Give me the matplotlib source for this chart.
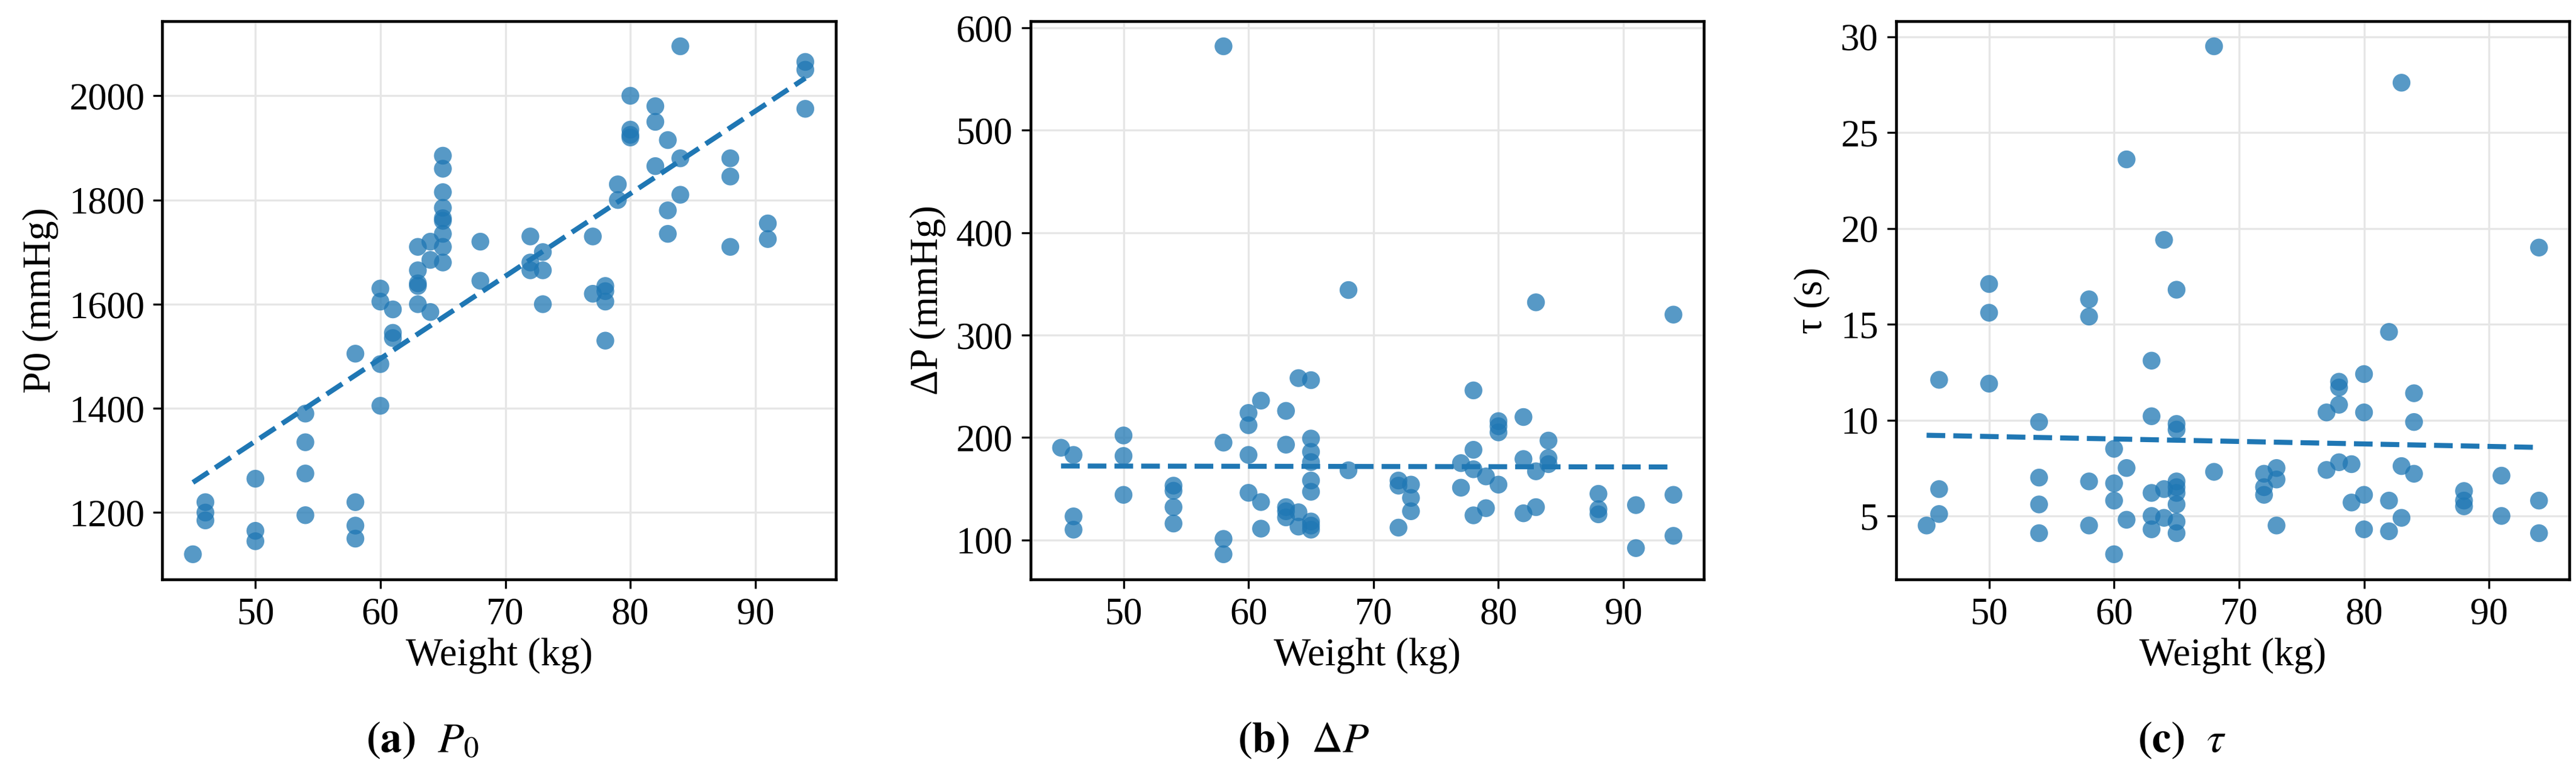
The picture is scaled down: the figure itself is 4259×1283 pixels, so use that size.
import numpy as np
import matplotlib.pyplot as plt

plt.rcParams['font.family'] = ['Liberation Serif', 'DejaVu Serif']
plt.rcParams['mathtext.fontset'] = 'stix'

# weight of each subject (shared by the three panels)
weight_groups = [45, 46, 50, 54, 58, 60, 61, 63, 64, 65, 68, 72, 73, 77, 78, 79, 80, 82, 83, 84, 88, 91, 94]

p0 = [[1120], [1220, 1200, 1185], [1265, 1165, 1145], [1390, 1335, 1275, 1195],
      [1505, 1220, 1175, 1150], [1630, 1605, 1485, 1405], [1590, 1545, 1535],
      [1710, 1665, 1640, 1635, 1600], [1720, 1685, 1585],
      [1885, 1860, 1815, 1785, 1765, 1760, 1735, 1710, 1680], [1720, 1645],
      [1730, 1680, 1665], [1700, 1665, 1600], [1730, 1620], [1635, 1625, 1605, 1530],
      [1830, 1800], [2000, 1935, 1925, 1920], [1980, 1950, 1865], [1915, 1780, 1735],
      [2095, 1880, 1810], [1880, 1845, 1710], [1755, 1725], [2065, 2050, 1975]]

dp = [[190], [183, 123, 110], [202, 182, 144], [153, 148, 132, 116],
      [582, 195, 101, 86], [224, 212, 183, 146], [236, 137, 111],
      [226, 193, 132, 128, 122], [258, 127, 113],
      [256, 199, 186, 176, 158, 147, 118, 114, 110], [344, 168],
      [158, 153, 112], [154, 141, 128], [175, 151], [246, 188, 169, 124],
      [162, 131], [216, 211, 205, 154], [220, 179, 126], [332, 167, 132],
      [197, 180, 174], [145, 130, 125], [134, 92], [320, 144, 104]]

tau = [[4.5], [12.1, 6.4, 5.1], [17.1, 15.6, 11.9], [9.9, 7.0, 5.6, 4.1],
       [16.3, 15.4, 6.8, 4.5], [8.5, 6.7, 5.8, 3.0], [23.6, 7.5, 4.8],
       [13.1, 10.2, 6.2, 5.0, 4.3], [19.4, 6.4, 4.9],
       [16.8, 9.8, 9.5, 6.8, 6.5, 6.2, 5.6, 4.7, 4.1], [29.5, 7.3],
       [7.2, 6.5, 6.1], [7.5, 6.9, 4.5], [10.4, 7.4], [12.0, 11.7, 10.8, 7.8],
       [7.7, 5.7], [12.4, 10.4, 6.1, 4.3], [14.6, 5.8, 4.2], [27.6, 7.6, 4.9],
       [11.4, 9.9, 7.2], [6.3, 5.8, 5.5], [7.1, 5.0], [19.0, 5.8, 4.1]]

panels = [
    (p0, 'P0 (mmHg)', r'$\mathbf{(a)}$  $P_0$', [1200, 1400, 1600, 1800, 2000]),
    (dp, 'ΔP (mmHg)', r'$\mathbf{(b)}$  $\Delta P$', [100, 200, 300, 400, 500, 600]),
    (tau, 'τ (s)', r'$\mathbf{(c)}$  $\tau$', [5, 10, 15, 20, 25, 30]),
]

fig = plt.figure(figsize=(14.197, 4.277), dpi=300)
lefts = [0.063, 0.400, 0.736]
cap_x = [0.164, 0.506, 0.847]

for left, cx, (vals, ylab, cap, yt) in zip(lefts, cap_x, panels):
    ax = fig.add_axes([left, 0.253, 0.2615, 0.72])
    x = np.concatenate([[w] * len(v) for w, v in zip(weight_groups, vals)])
    y = np.concatenate(vals)
    ax.scatter(x, y, s=50, color='#1f77b4', alpha=0.75, edgecolors='none', zorder=3)
    k, b = np.polyfit(x, y, 1)
    xs = np.array([x.min(), x.max()])
    ax.plot(xs, k * xs + b, '--', color='#1f77b4', lw=2, zorder=4)
    ax.set_xticks([50, 60, 70, 80, 90])
    ax.set_yticks(yt)
    ax.grid(True, color='#e6e6e6', lw=0.8)
    ax.set_axisbelow(True)
    ax.set_xlabel('Weight (kg)', fontsize=15.5, labelpad=2)
    ax.set_ylabel(ylab, fontsize=15.5)
    ax.tick_params(labelsize=15)
    for s in ax.spines.values():
        s.set_linewidth(1.1)
    fig.text(cx, 0.045, cap, fontsize=17, ha='center', va='center')

fig.savefig('out.png', dpi=300)
